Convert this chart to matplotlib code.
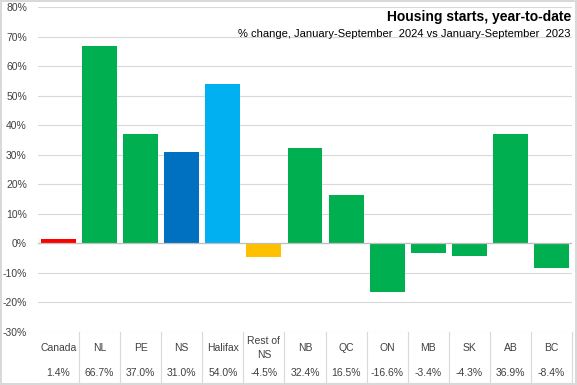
import matplotlib
matplotlib.use("Agg")
import matplotlib.pyplot as plt
import matplotlib.transforms as mtransforms

# data
categories = ["Canada", "NL", "PE", "NS", "Halifax", "Rest of\nNS", "NB", "QC",
              "ON", "MB", "SK", "AB", "BC"]
values = [1.4, 66.7, 37.0, 31.0, 54.0, -4.5, 32.4, 16.5, -16.6, -3.4, -4.3, 36.9, -8.4]
value_labels = ["1.4%", "66.7%", "37.0%", "31.0%", "54.0%", "-4.5%", "32.4%", "16.5%",
                "-16.6%", "-3.4%", "-4.3%", "36.9%", "-8.4%"]
bar_colors = ["#FF0000", "#00B050", "#00B050", "#0070C0", "#00B0F0", "#FFC000", "#00B050",
              "#00B050", "#00B050", "#00B050", "#00B050", "#00B050", "#00B050"]
yticks = list(range(-30, 81, 10))

plt.rcParams['font.family'] = ['Liberation Sans', 'DejaVu Sans']

fig = plt.figure(figsize=(5.77, 3.85), dpi=100)
fig.patch.set_edgecolor("#D9D9D9")
fig.patch.set_linewidth(1.5)
ax = fig.add_axes([38 / 577, 1 - 332 / 385, 534 / 577, 325 / 385])

x = list(range(len(categories)))
ax.bar(x, values, width=0.85, color=bar_colors, zorder=3)

ax.set_xlim(-0.5, len(categories) - 0.5)
ax.set_ylim(-30, 80)
ax.set_yticks(yticks)
ax.set_yticklabels([f"{t}%" for t in yticks], fontsize=7.5, color="#404040")
ax.tick_params(axis="y", length=0, pad=8)
ax.set_xticks([])
ax.grid(axis="y", color="#D9D9D9", linewidth=0.8, zorder=0)
ax.axhline(0, color="#BFBFBF", linewidth=0.9, zorder=4)
for s in ax.spines.values():
    s.set_visible(False)

# data table below the axis
trans = mtransforms.blended_transform_factory(ax.transData, ax.transAxes)
for i, (cat, lab) in enumerate(zip(categories, value_labels)):
    ax.text(i, -0.049, cat, transform=trans, ha="center", va="center",
            fontsize=7.5, color="#404040", linespacing=1.5)
    ax.text(i, -0.126, lab, transform=trans, ha="center", va="center",
            fontsize=7.5, color="#404040")
for b in range(1, len(categories) + 1):
    ax.plot([b - 0.5, b - 0.5], [0, -0.157], transform=trans, color="#D9D9D9",
            linewidth=0.8, clip_on=False)
ax.plot([-0.5, len(categories) - 0.5], [-0.157, -0.157], transform=trans,
        color="#D9D9D9", linewidth=0.8, clip_on=False)

fig.text(571 / 577, 1 - 17 / 385, "Housing starts, year-to-date", ha="right", va="center",
         fontsize=10, fontweight="bold", color="black")
fig.text(571 / 577, 1 - 34 / 385, "% change, January-September  2024 vs January-September  2023",
         ha="right", va="center", fontsize=8, color="black")

fig.savefig("out.png", dpi=100, edgecolor=fig.get_edgecolor())
